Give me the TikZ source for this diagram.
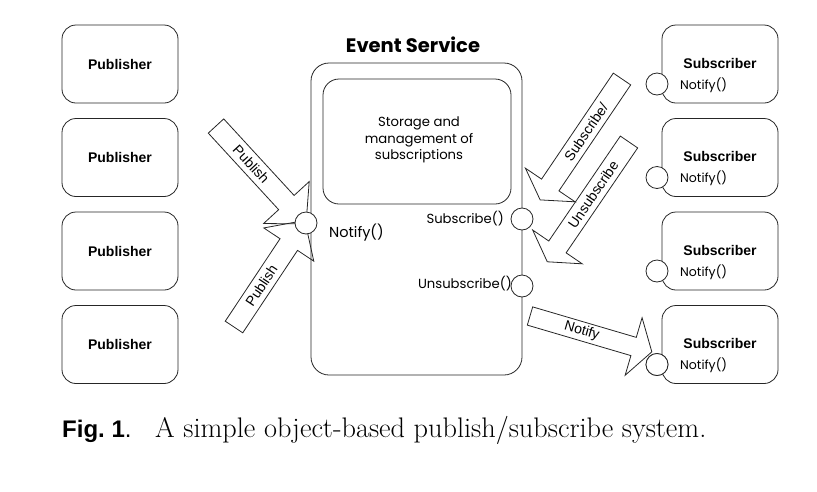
\documentclass[tikz,border=0pt]{standalone}
\usepackage{fontspec}
\newfontfamily\arialf{Liberation Sans}
\newfontfamily\geof{Poppins}
\usetikzlibrary{calc}
\tikzset{
  ln/.style={draw=black!85, line width=0.8pt},
  box/.style={ln, rounded corners=14pt, minimum width=116pt, minimum height=78pt, inner sep=0pt},
  boldlbl/.style={font=\arialf\bfseries\fontsize{14}{16}\selectfont, inner sep=0pt},
  port/.style={ln, circle, fill=white, minimum size=22pt, inner sep=0pt},
  geotxt/.style={font=\geof\fontsize{13.2}{16.5}\selectfont, inner sep=0pt, align=center},
  subnotify/.style={font=\geof\fontsize{12.5}{14}\selectfont, inner sep=0pt},
  arrowline/.style={ln, line join=miter},
  arrowtext/.style={font=\arialf\fontsize{14}{16}\selectfont, inner sep=0pt},
}
% #1 name, #2 tail, #3 rotation, #4 length, #5 head length, #6 shaft half, #7 head half, #8 label, #9 text rotation
\newcommand\blockarrow[9]{%
  \begin{scope}[shift={#2}, rotate=#3]
    \draw[arrowline] (0,-#6) -- ({#4-#5},-#6) -- ({#4-#5},-#7) -- (#4,0) -- ({#4-#5},#7) -- ({#4-#5},#6) -- (0,#6) -- cycle;
    \node[arrowtext, rotate=#9] (#1) at ({(#4-#5)/2},0) {#8};
  \end{scope}}
\begin{document}
\begin{tikzpicture}[x=1pt,y=-1pt]
\useasboundingbox (0,0) rectangle (817,491);
% publishers
\foreach \i/\y in {1/64,2/157.5,3/251,4/344.5}{
  \node[box, boldlbl] (pub\i) at (120,\y) {Publisher};
}
% subscribers
\foreach \i/\y in {1/64,2/157.5,3/251,4/344.5}{
  \node[box] (sub\i) at (720,\y) {};
  \node[boldlbl] (subl\i) at (720,\y-1) {Subscriber};
  \node[port] (subp\i) at (657,\y+20) {};
  \node[subnotify, anchor=west] (subn\i) at (680,\y+21) {Notify()};
}
% event service
\node[font=\geof\bfseries\fontsize{19.5}{22}\selectfont, inner sep=0pt] (title) at (413,45) {Event Service};
\draw[ln, rounded corners=18pt] (311,63) rectangle (522,375);
\node[ln, rounded corners=16pt, minimum width=188pt, minimum height=125pt, inner sep=0pt] (store) at (417,141.5) {};
\node[geotxt] (storetxt) at (419,140) {Storage and\\management of\\subscriptions};
% arrows
\blockarrow{pubA}{(216,126)}{-47.4}{133}{29}{10.5}{31}{Publish}{-47.4}
\blockarrow{pubB}{(234,327)}{56.4}{128}{29}{10.5}{30}{Publish}{56.4}
\blockarrow{subA}{(622,79)}{-124.1}{146}{18}{10.5}{30}{Subscribe/}{55.9}
\blockarrow{unsA}{(629,142)}{-124.3}{145}{18}{10.5}{30}{Unsubscribe}{55.7}
\blockarrow{notA}{(530,316)}{-16.4}{127}{19}{9.5}{30}{Notify}{-16.4}
% ports on event service
\node[port] (np) at (306,223) {};
\node[port] (sp) at (522,219) {};
\node[port] (up) at (522,286) {};
\node[geotxt, font=\geof\fontsize{14.5}{16}\selectfont, anchor=west] (npl) at (329,233) {Notify()};
\node[geotxt, anchor=east] (spl) at (504,219) {Subscribe()};
\node[geotxt, anchor=east] (upl) at (512,284) {Unsubscribe()};
% redraw subscriber port on top of the Notify arrow
\node[port] at (subp4) {};
% caption
\node[anchor=base west, inner sep=0pt, font=\arialf\fontsize{24}{28}\selectfont] (figlbl) at (62,437) {\bfseries Fig.~1\mdseries.};
\node[anchor=base west, inner sep=0pt, font=\fontsize{28.3}{32}\selectfont] (caption) at (155,437) {A simple object-based publish/subscribe system.};
\end{tikzpicture}
\end{document}
